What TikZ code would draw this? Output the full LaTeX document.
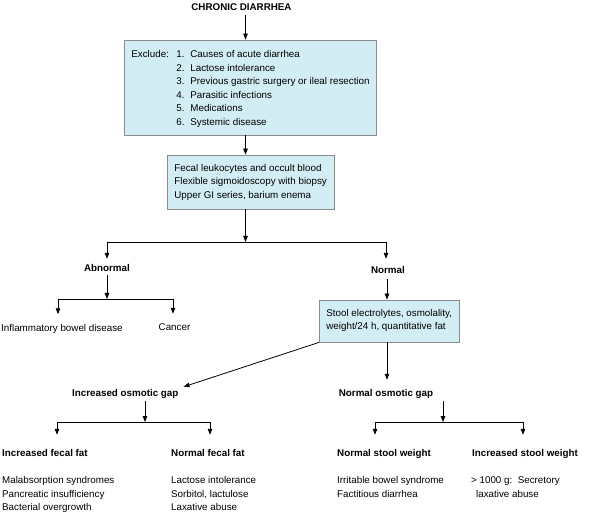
\documentclass[tikz,border=0pt]{standalone}
\usepackage{fontspec}
\setmainfont{Liberation Sans}
\usetikzlibrary{arrows.meta,calc}
\definecolor{boxfill}{HTML}{D3EDF5}
\definecolor{boxline}{HTML}{8A8A8A}
\begin{document}
\begin{tikzpicture}[x=1pt,y=-1pt,
  arr/.style={draw, line width=0.8pt, -{Triangle[length=6pt,width=4.5pt]}},
  conn/.style={draw, line width=0.8pt},
  box/.style={draw=boxline, fill=boxfill, line width=0.8pt, inner xsep=7pt, inner ysep=0pt, anchor=base west},
  lbl/.style={inner sep=0pt, font=\fontsize{9.8}{13.5}\selectfont, text height=7pt, text depth=2pt},
  head/.style={inner sep=0pt, font=\fontsize{9.8}{13.5}\selectfont\bfseries, text height=7pt, text depth=2pt},
  lst/.style={inner sep=0pt, anchor=base west, font=\fontsize{9.8}{13.5}\selectfont}
]
\useasboundingbox (0,0) rectangle (595,513);

% guide coordinates
\coordinate (ax) at (245.5,0);
\coordinate (bx) at (387,0);
\coordinate (s1) at (245.5,242);
\coordinate (s1l) at (107,242);
\coordinate (s1r) at (386,242);
\coordinate (s2) at (107,299);
\coordinate (s2l) at (58,299);
\coordinate (s2r) at (173,299);
\coordinate (s3) at (145,422);
\coordinate (s3l) at (57,422);
\coordinate (s3r) at (210,422);
\coordinate (s4) at (443,422);
\coordinate (s4l) at (375,422);
\coordinate (s4r) at (523,422);

% title
\node[head, anchor=base] (title) at (241.5,10.5) {CHRONIC DIARRHEA};

% boxes
\node[box, font=\fontsize{9.8}{13.6}\selectfont, text height=17.5pt, text depth=77.5pt] (excl) at (124,57.5)
{\begin{tabular}[t]{@{}l@{}}
\makebox[45pt][l]{Exclude:}\makebox[14pt][l]{1.}Causes of acute diarrhea\\
\hspace*{45pt}\makebox[14pt][l]{2.}Lactose intolerance\\
\hspace*{45pt}\makebox[14pt][l]{3.}Previous gastric surgery or ileal resection\\
\hspace*{45pt}\makebox[14pt][l]{4.}Parasitic infections\\
\hspace*{45pt}\makebox[14pt][l]{5.}Medications\\
\hspace*{45pt}\makebox[14pt][l]{6.}Systemic disease
\end{tabular}};

\node[box, font=\fontsize{9.8}{13.3}\selectfont, text height=16.5pt, text depth=37.5pt] (tests) at (167,171.5)
{\begin{tabular}[t]{@{}l@{}}
Fecal leukocytes and occult blood\\
Flexible sigmoidoscopy with biopsy\\
Upper GI series, barium enema
\end{tabular}};

\node[box, font=\fontsize{9.8}{13}\selectfont, text height=16.5pt, text depth=25.5pt] (stool) at (319,316.5)
{\begin{tabular}[t]{@{}l@{}}
Stool electrolytes, osmolality,\\
weight/24 h, quantitative fat
\end{tabular}};

% labels
\node[head, anchor=base] (abn) at (107,271.5) {Abnormal};
\node[head, anchor=base] (nrm) at (388,273.5) {Normal};
\node[lbl, anchor=base west] (ibd) at (1,331.5) {Inflammatory bowel disease};
\node[lbl, anchor=base] (cancer) at (174.5,331) {Cancer};
\node[head, anchor=base west] (incgap) at (72,396.5) {Increased osmotic gap};
\node[head, anchor=base] (normgap) at (386,396.5) {Normal osmotic gap};
\node[head, anchor=base west] (incfat) at (2,456.5) {Increased fecal fat};
\node[head, anchor=base west] (normfat) at (171,456.5) {Normal fecal fat};
\node[head, anchor=base west] (nsw) at (337,456.5) {Normal stool weight};
\node[head, anchor=base west] (isw) at (472,456.5) {Increased stool weight};

\node[lst] (l1) at (2,483.5) {\begin{tabular}[t]{@{}l@{}}
Malabsorption syndromes\\ Pancreatic insufficiency\\ Bacterial overgrowth\end{tabular}};
\node[lst] (l2) at (171,483.5) {\begin{tabular}[t]{@{}l@{}}
Lactose intolerance\\ Sorbitol, lactulose\\ Laxative abuse\end{tabular}};
\node[lst] (l3) at (337,483.5) {\begin{tabular}[t]{@{}l@{}}
Irritable bowel syndrome\\ Factitious diarrhea\end{tabular}};
\node[lst] (l4) at (471,483.5) {\begin{tabular}[t]{@{}l@{}}
> 1000 g:\ \ Secretory\\ \hspace*{5pt}laxative abuse\end{tabular}};

% connectors
\draw[arr, shorten <=2.5pt] (title.south -| ax) -- (excl.north -| ax);
\draw[arr] (excl.south -| ax) -- (tests.north -| ax);
\draw[arr] (tests.south -| ax) -- (s1);
\draw[conn] (s1l) -- (s1r);
\draw[arr, shorten >=5.5pt] (s1l) -- (s1l |- abn.north);
\draw[arr, shorten >=7.5pt] (s1r) -- (s1r |- nrm.north);

\draw[arr, shorten <=1.5pt] (abn.south) -- (s2);
\draw[conn] (s2l) -- (s2r);
\draw[arr, shorten >=10pt] (s2l) -- (s2l |- ibd.north);
\draw[arr, shorten >=10pt] (s2r) -- (s2r |- cancer.north);

\draw[arr, shorten <=3.5pt] (nrm.south -| bx) -- (stool.north -| bx);
\draw[arr] (stool.south west) -- ([shift={(5,-2.5)}]incgap.north east);
\draw[arr, shorten >=9.5pt] (stool.south -| bx) -- (bx |- normgap.north);

\draw[arr, shorten <=2.5pt] (incgap.south -| s3) -- (s3);
\draw[conn] (s3l) -- (s3r);
\draw[arr, shorten >=14.5pt] (s3l) -- (s3l |- incfat.north);
\draw[arr, shorten >=14.5pt] (s3r) -- (s3r |- normfat.north);

\draw[arr, shorten <=2.5pt] (normgap.south -| s4) -- (s4);
\draw[conn] (s4l) -- (s4r);
\draw[arr, shorten >=14.5pt] (s4l) -- (s4l |- nsw.north);
\draw[arr, shorten >=14.5pt] (s4r) -- (s4r |- isw.north);
\end{tikzpicture}
\end{document}
